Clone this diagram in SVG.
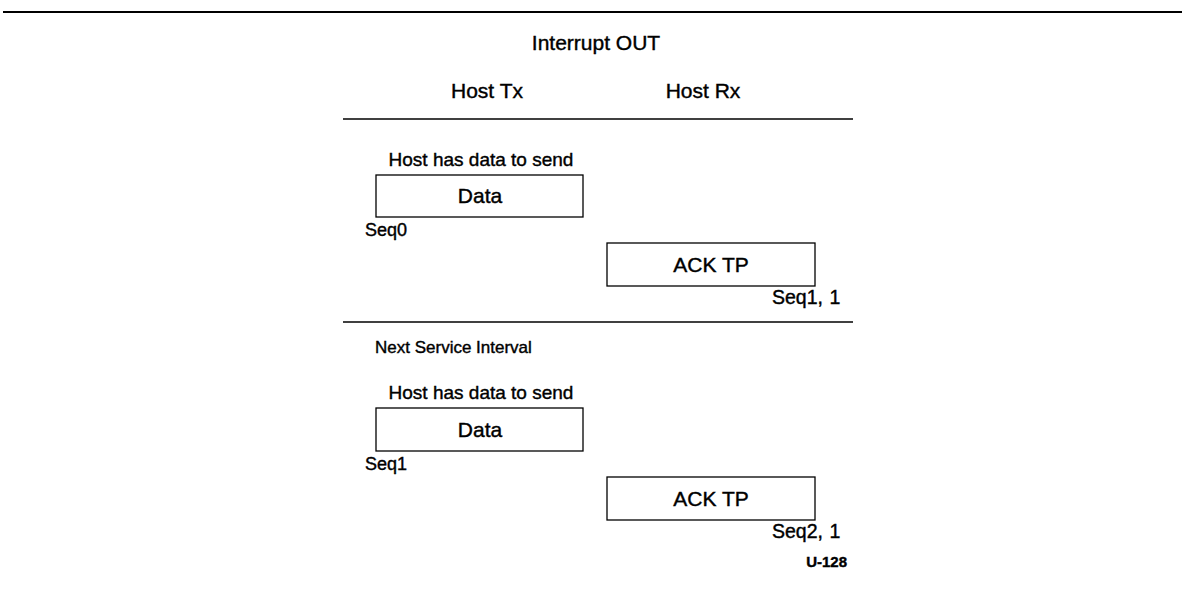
<svg xmlns="http://www.w3.org/2000/svg" width="1182" height="592" viewBox="0 0 1182 592">
<style>
text{font-family:"Liberation Sans",Arial,sans-serif;fill:#000;stroke:#000;stroke-width:0.4}
.t{font-size:21px}
.m{font-size:19px}
.s{font-size:18px}
.q{font-size:19.5px;word-spacing:1px}
.n{font-size:17px}
.box{fill:#fff;stroke:#000;stroke-width:1.3}
.rule{stroke:#000;stroke-width:1.3}
</style>
<rect width="1182" height="592" fill="#fff"/>
<line x1="3" y1="12" x2="1182" y2="12" stroke="#000" stroke-width="2.2"/>
<text class="t" x="596" y="50" text-anchor="middle">Interrupt OUT</text>
<text class="t" x="487" y="98" text-anchor="middle">Host Tx</text>
<text class="t" x="703" y="98" text-anchor="middle">Host Rx</text>
<g id="connectors">
<line class="rule" x1="343" y1="119" x2="853" y2="119"/>
<line class="rule" x1="343" y1="322" x2="853" y2="322"/>
</g>
<g id="interval1">
<text class="m" x="481" y="166" text-anchor="middle">Host has data to send</text>
<g id="data1"><rect class="box" x="376" y="175" width="207" height="42"/><text class="t" x="480" y="203" text-anchor="middle">Data</text></g>
<text class="s" x="365" y="236">Seq0</text>
<g id="ack1"><rect class="box" x="607" y="243" width="208" height="43"/><text class="t" x="711" y="272" text-anchor="middle">ACK TP</text></g>
<text class="q" x="772" y="304">Seq1, 1</text>
</g>
<text class="n" x="375" y="353">Next Service Interval</text>
<g id="interval2">
<text class="m" x="481" y="399" text-anchor="middle">Host has data to send</text>
<g id="data2"><rect class="box" x="376" y="408" width="207" height="43"/><text class="t" x="480" y="437" text-anchor="middle">Data</text></g>
<text class="s" x="365" y="470">Seq1</text>
<g id="ack2"><rect class="box" x="607" y="477" width="208" height="43"/><text class="t" x="711" y="506" text-anchor="middle">ACK TP</text></g>
<text class="q" x="772" y="538">Seq2, 1</text>
</g>
<text x="847" y="567" text-anchor="end" font-size="15" font-weight="bold">U-128</text>
</svg>
